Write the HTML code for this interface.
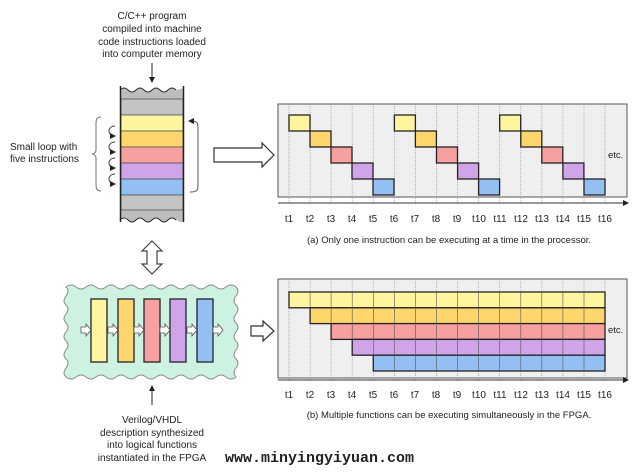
<!DOCTYPE html>
<html><head><meta charset="utf-8"><style>
html,body{margin:0;padding:0;background:#fff;width:643px;height:473px;overflow:hidden}
svg{display:block}
text{font-family:"Liberation Sans",sans-serif;fill:#222}
</style></head><body>
<svg width="643" height="473" viewBox="0 0 643 473" xmlns="http://www.w3.org/2000/svg">
<defs>
<marker id="ah" markerWidth="6" markerHeight="6" refX="5" refY="3" orient="auto"><path d="M0,0 L6,3 L0,6 z" fill="#222"/></marker>
</defs>

<g font-size="10" text-anchor="middle">
<text x="152" y="19">C/C++ program</text>
<text x="152" y="32">compiled into machine</text>
<text x="152" y="45">code instructions loaded</text>
<text x="152" y="57">into computer memory</text>
</g>
<line x1="152" y1="63" x2="152" y2="82" stroke="#222" stroke-width="1" marker-end="url(#ah)"/>

<rect x="121" y="88" width="62" height="134" fill="#bdbdbd"/>
<rect x="121" y="99" width="62" height="16" fill="#c4c4c4" stroke="#555" stroke-width="0.8"/>
<rect x="121" y="115" width="62" height="16" fill="#fff59e" stroke="#555" stroke-width="0.8"/>
<rect x="121" y="131" width="62" height="16" fill="#ffd66c" stroke="#555" stroke-width="0.8"/>
<rect x="121" y="147" width="62" height="16" fill="#f6a0a0" stroke="#555" stroke-width="0.8"/>
<rect x="121" y="163" width="62" height="16" fill="#cfa4e8" stroke="#555" stroke-width="0.8"/>
<rect x="121" y="179" width="62" height="16" fill="#94bff2" stroke="#555" stroke-width="0.8"/>
<rect x="121" y="195" width="62" height="15" fill="#c4c4c4" stroke="#555" stroke-width="0.8"/>
<path d="M120,90 q4,-4 8,0 t8,0 t8,0 t8,0 t8,0 t8,0 t8,0 L184,88 L184,86 L120,86z" fill="#fff"/>
<path d="M120,90 q4,-4 8,0 t8,0 t8,0 t8,0 t8,0 t8,0 t8,0" fill="none" stroke="#333" stroke-width="1"/>
<path d="M120,220 q4,-4 8,0 t8,0 t8,0 t8,0 t8,0 t8,0 t8,0 L184,224 L120,224z" fill="#fff"/>
<path d="M120,220 q4,-4 8,0 t8,0 t8,0 t8,0 t8,0 t8,0 t8,0" fill="none" stroke="#333" stroke-width="1"/>
<line x1="120.5" y1="86" x2="120.5" y2="222" stroke="#222" stroke-width="1.5"/>
<line x1="183.5" y1="86" x2="183.5" y2="222" stroke="#222" stroke-width="1.5"/>

<g fill="none" stroke="#444" stroke-width="1">
<path d="M115,126 c-8,0 -8,10 0,10" marker-end="url(#ah)"/>
<path d="M115,142 c-8,0 -8,10 0,10" marker-end="url(#ah)"/>
<path d="M115,158 c-8,0 -8,10 0,10" marker-end="url(#ah)"/>
<path d="M115,174 c-8,0 -8,10 0,10" marker-end="url(#ah)"/>
<path d="M101,117 c-5,0 -5,3 -5,8 l0,25 c0,3 -3,4 -4,4 c1,0 4,1 4,4 l0,25 c0,5 0,8 5,8" stroke="#777"/>
<path d="M190,121 c8,0 8,2 8,8 l0,55 c0,6 0,8 -8,8" stroke="#555"/>
</g>
<line x1="194" y1="121" x2="189" y2="121" stroke="#444" marker-end="url(#ah)"/>
<text x="10" y="150" font-size="10">Small loop with</text>
<text x="10" y="162" font-size="10">five instructions</text>

<path d="M214,148 L262,148 L262,143 L274,155 L262,167 L262,162 L214,162 z" fill="#fff" stroke="#333" stroke-width="1.2"/>

<rect x="278" y="104" width="349" height="93" fill="#efefef" stroke="#555" stroke-width="1"/>
<g stroke="#999" stroke-width="0.7" stroke-dasharray="1,1">
<line x1="289" y1="104" x2="289" y2="203"/><line x1="310.1" y1="104" x2="310.1" y2="203"/><line x1="331.1" y1="104" x2="331.1" y2="203"/><line x1="352.2" y1="104" x2="352.2" y2="203"/><line x1="373.3" y1="104" x2="373.3" y2="203"/><line x1="394.4" y1="104" x2="394.4" y2="203"/><line x1="415.4" y1="104" x2="415.4" y2="203"/><line x1="436.5" y1="104" x2="436.5" y2="203"/><line x1="457.6" y1="104" x2="457.6" y2="203"/><line x1="478.6" y1="104" x2="478.6" y2="203"/><line x1="499.7" y1="104" x2="499.7" y2="203"/><line x1="520.8" y1="104" x2="520.8" y2="203"/><line x1="541.8" y1="104" x2="541.8" y2="203"/><line x1="562.9" y1="104" x2="562.9" y2="203"/><line x1="584" y1="104" x2="584" y2="203"/><line x1="605" y1="104" x2="605" y2="203"/>
</g>
<line x1="278" y1="203" x2="628" y2="203" stroke="#333" stroke-width="1" marker-end="url(#ah)"/>
<g stroke="#222" stroke-width="1.3">
<rect x="289" y="115" width="21" height="16" fill="#fff59e"/>
<rect x="310" y="131" width="21" height="16" fill="#ffd66c"/>
<rect x="331" y="147" width="21" height="16" fill="#f6a0a0"/>
<rect x="352" y="163" width="21" height="16" fill="#cfa4e8"/>
<rect x="373" y="179" width="21" height="16" fill="#94bff2"/>
<rect x="394.4" y="115" width="21" height="16" fill="#fff59e"/>
<rect x="415.4" y="131" width="21" height="16" fill="#ffd66c"/>
<rect x="436.5" y="147" width="21" height="16" fill="#f6a0a0"/>
<rect x="457.6" y="163" width="21" height="16" fill="#cfa4e8"/>
<rect x="478.6" y="179" width="21" height="16" fill="#94bff2"/>
<rect x="499.7" y="115" width="21" height="16" fill="#fff59e"/>
<rect x="520.8" y="131" width="21" height="16" fill="#ffd66c"/>
<rect x="541.8" y="147" width="21" height="16" fill="#f6a0a0"/>
<rect x="562.9" y="163" width="21" height="16" fill="#cfa4e8"/>
<rect x="584" y="179" width="21" height="16" fill="#94bff2"/>
</g>
<text x="608" y="158" font-size="9.5">etc.</text>
<g font-size="10" text-anchor="middle">
<text x="289" y="222">t1</text><text x="310" y="222">t2</text><text x="331" y="222">t3</text><text x="352" y="222">t4</text><text x="373" y="222">t5</text><text x="394" y="222">t6</text><text x="415" y="222">t7</text><text x="436" y="222">t8</text><text x="457" y="222">t9</text><text x="479" y="222">t10</text><text x="500" y="222">t11</text><text x="521" y="222">t12</text><text x="542" y="222">t13</text><text x="563" y="222">t14</text><text x="584" y="222">t15</text><text x="605" y="222">t16</text>
</g>
<text x="449" y="243" font-size="9.5" text-anchor="middle">(a) Only one instruction can be executing at a time in the processor.</text>

<path d="M152,241 L162,251 L157,251 L157,264 L162,264 L152,274 L142,264 L147,264 L147,251 L142,251 z" fill="#fff" stroke="#444" stroke-width="1.2"/>

<path d="M66,287 q5,-4 10,0 t10,0 t10,0 t10,0 t10,0 t10,0 t10,0 t10,0 t10,0 t10,0 t10,0 t10,0 t10,0 t10,0 t10,0 t10,0 t10,0 q4,4 0,9 t0,9 t0,9 t0,9 t0,9 t0,9 t0,9 t0,9 t0,9 t0,9 q-5,4 -10,0 t-10,0 t-10,0 t-10,0 t-10,0 t-10,0 t-10,0 t-10,0 t-10,0 t-10,0 t-10,0 t-10,0 t-10,0 t-10,0 t-10,0 t-10,0 t-10,0 q-4,-4 0,-9 t0,-9 t0,-9 t0,-9 t0,-9 t0,-9 t0,-9 t0,-9 t0,-9 t0,-9 z" fill="#cdf2e2" stroke="#888" stroke-width="1"/>
<g stroke="#222" stroke-width="1.3">
<rect x="91" y="299" width="16" height="63" fill="#fff59e"/>
<rect x="118" y="299" width="16" height="63" fill="#ffd66c"/>
<rect x="144" y="299" width="16" height="63" fill="#f6a0a0"/>
<rect x="170" y="299" width="16" height="63" fill="#cfa4e8"/>
<rect x="197" y="299" width="16" height="63" fill="#94bff2"/>
</g>
<g fill="#fff" stroke="#555" stroke-width="0.8">
<path d="M81,327 h5 v-3 l5,6 l-5,6 v-3 h-5z"/>
<path d="M108,327 h5 v-3 l5,6 l-5,6 v-3 h-5z"/>
<path d="M134,327 h5 v-3 l5,6 l-5,6 v-3 h-5z"/>
<path d="M160,327 h5 v-3 l5,6 l-5,6 v-3 h-5z"/>
<path d="M187,327 h5 v-3 l5,6 l-5,6 v-3 h-5z"/>
<path d="M213,327 h5 v-3 l5,6 l-5,6 v-3 h-5z"/>
</g>
<path d="M251,326 L263,326 L263,321 L274,331 L263,341 L263,336 L251,336 z" fill="#fff" stroke="#333" stroke-width="1.2"/>
<line x1="152" y1="405" x2="152" y2="386" stroke="#222" stroke-width="1" marker-end="url(#ah)"/>
<g font-size="10" text-anchor="middle">
<text x="152" y="423">Verilog/VHDL</text>
<text x="152" y="436">description synthesized</text>
<text x="152" y="448">into logical functions</text>
<text x="152" y="461">instantiated in the FPGA</text>
</g>

<rect x="278" y="279" width="349" height="99" fill="#efefef" stroke="#555" stroke-width="1"/>
<g stroke="#999" stroke-width="0.7" stroke-dasharray="1,1">
<line x1="289" y1="279" x2="289" y2="381"/><line x1="310.1" y1="279" x2="310.1" y2="381"/><line x1="331.1" y1="279" x2="331.1" y2="381"/><line x1="352.2" y1="279" x2="352.2" y2="381"/><line x1="373.3" y1="279" x2="373.3" y2="381"/><line x1="394.4" y1="279" x2="394.4" y2="381"/><line x1="415.4" y1="279" x2="415.4" y2="381"/><line x1="436.5" y1="279" x2="436.5" y2="381"/><line x1="457.6" y1="279" x2="457.6" y2="381"/><line x1="478.6" y1="279" x2="478.6" y2="381"/><line x1="499.7" y1="279" x2="499.7" y2="381"/><line x1="520.8" y1="279" x2="520.8" y2="381"/><line x1="541.8" y1="279" x2="541.8" y2="381"/><line x1="562.9" y1="279" x2="562.9" y2="381"/><line x1="584" y1="279" x2="584" y2="381"/><line x1="605" y1="279" x2="605" y2="381"/>
</g>
<line x1="278" y1="380" x2="628" y2="380" stroke="#333" stroke-width="1" marker-end="url(#ah)"/>
<g stroke="#222" stroke-width="1.3">
<rect x="289" y="292" width="316" height="15.8" fill="#fff59e"/>
<rect x="310.1" y="307.8" width="294.9" height="15.8" fill="#ffd66c"/>
<rect x="331.1" y="323.6" width="273.9" height="15.8" fill="#f6a0a0"/>
<rect x="352.2" y="339.4" width="252.8" height="15.8" fill="#cfa4e8"/>
<rect x="373.3" y="355.2" width="231.7" height="15.8" fill="#94bff2"/>
</g>
<g stroke="#555" stroke-width="0.6">
<line x1="310.1" y1="292" x2="310.1" y2="307.8"/><line x1="331.1" y1="292" x2="331.1" y2="323.6"/><line x1="352.2" y1="292" x2="352.2" y2="339.4"/><line x1="373.3" y1="292" x2="373.3" y2="355.2"/><line x1="394.4" y1="292" x2="394.4" y2="371"/><line x1="415.4" y1="292" x2="415.4" y2="371"/><line x1="436.5" y1="292" x2="436.5" y2="371"/><line x1="457.6" y1="292" x2="457.6" y2="371"/><line x1="478.6" y1="292" x2="478.6" y2="371"/><line x1="499.7" y1="292" x2="499.7" y2="371"/><line x1="520.8" y1="292" x2="520.8" y2="371"/><line x1="541.8" y1="292" x2="541.8" y2="371"/><line x1="562.9" y1="292" x2="562.9" y2="371"/><line x1="584" y1="292" x2="584" y2="371"/>
</g>
<text x="608" y="333" font-size="9.5">etc.</text>
<g font-size="10" text-anchor="middle">
<text x="289" y="398">t1</text><text x="310" y="398">t2</text><text x="331" y="398">t3</text><text x="352" y="398">t4</text><text x="373" y="398">t5</text><text x="394" y="398">t6</text><text x="415" y="398">t7</text><text x="436" y="398">t8</text><text x="457" y="398">t9</text><text x="479" y="398">t10</text><text x="500" y="398">t11</text><text x="521" y="398">t12</text><text x="542" y="398">t13</text><text x="563" y="398">t14</text><text x="584" y="398">t15</text><text x="605" y="398">t16</text>
</g>
<text x="449" y="418" font-size="9.5" text-anchor="middle">(b) Multiple functions can be executing simultaneously in the FPGA.</text>

<text x="225" y="462" font-weight="bold" font-size="15" style="font-family:'Liberation Mono',monospace" fill="#000">www.minyingyiyuan.com</text>
</svg>
</body></html>
